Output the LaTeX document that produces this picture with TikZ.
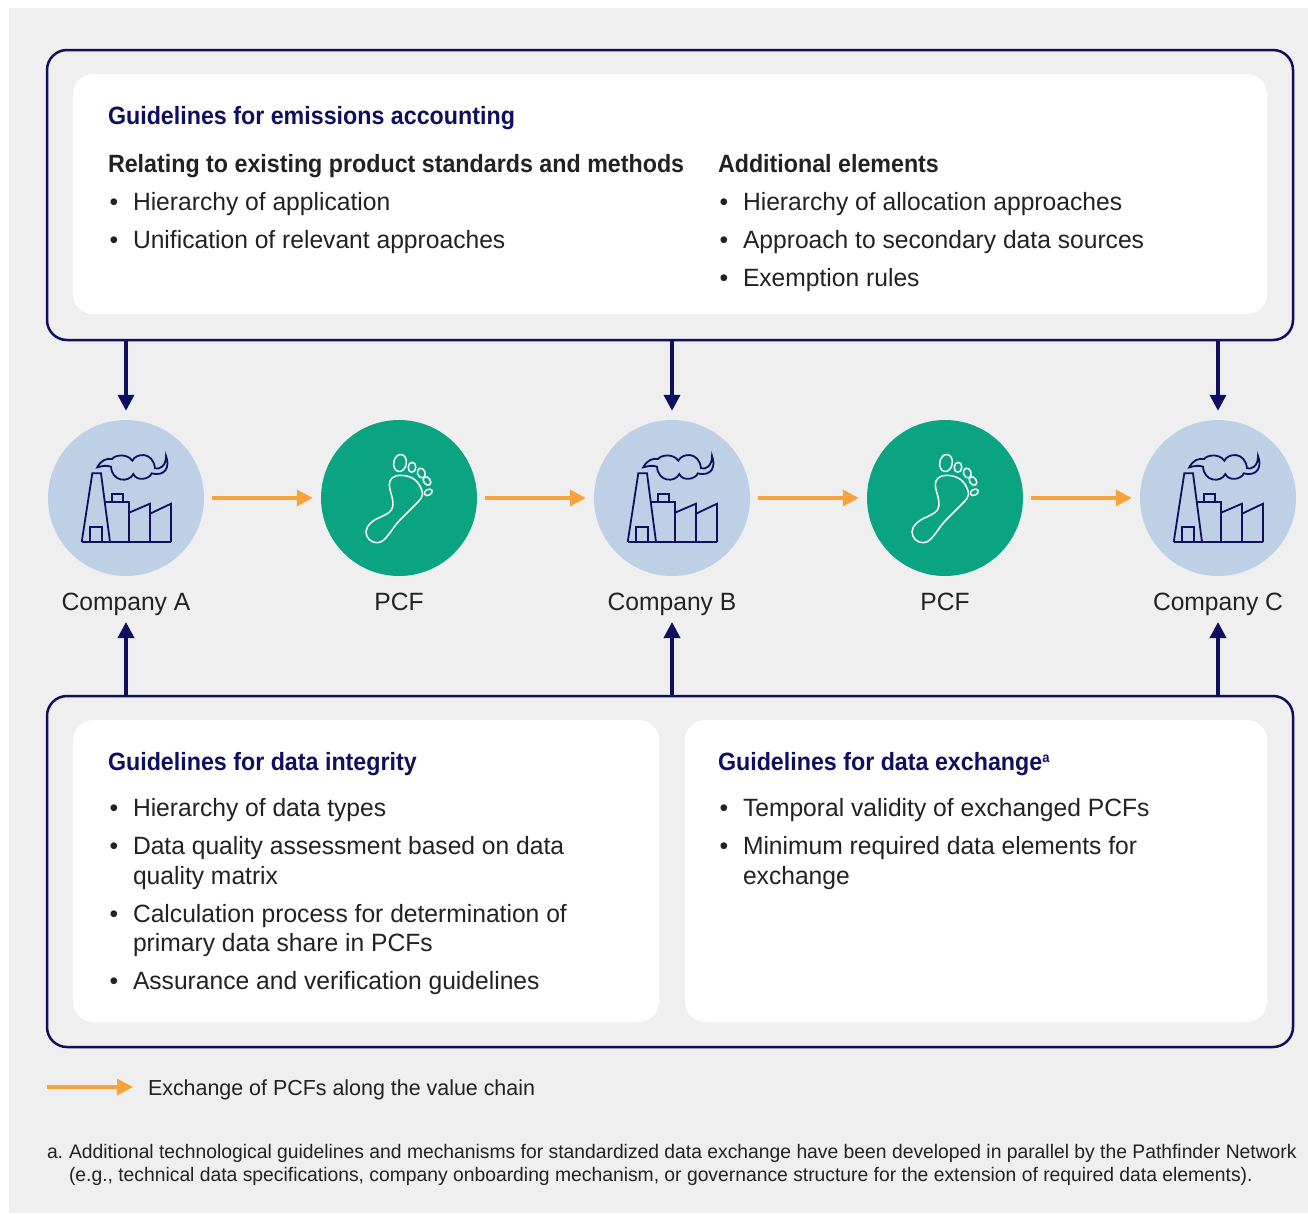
\documentclass[tikz,border=0pt]{standalone}
\usepackage{fontspec}
\setmainfont[FakeStretch=0.985,BoldFeatures={FakeStretch=0.93}]{Liberation Sans}
\usetikzlibrary{arrows.meta,calc}
\definecolor{navy}{HTML}{0F0F5F}
\definecolor{bgg}{HTML}{EFEFEF}
\definecolor{ink}{HTML}{222222}
\definecolor{orangeA}{HTML}{F7A23B}
\definecolor{greenC}{HTML}{0AA482}
\definecolor{blueC}{HTML}{BDD0E5}
\newcommand{\factory}[1]{%
 \begin{scope}[shift={(#1)},navy,line width=1.8pt,line join=miter]
 \draw (-44.3,44) -- (45,44);
 \draw (-44.3,44) -- (-33.7,-24.7) -- (-25,-24.7) -- (-16,44);
 \draw (-36,44) -- (-36,29.3) -- (-24,29.3) -- (-24,44);
 \draw (-21,3.7) -- (3,3.7) -- (3,44);
 \draw (-14,3.7) -- (-14,-4.3) -- (-3.3,-4.3) -- (-3.3,3.7);
 \draw (3,14.7) -- (24,5.7) -- (24,44);
 \draw (24,15.7) -- (45,5.7) -- (45,44);
 \draw (-28.7,-30.7) .. controls (-25,-38) and (-19,-40) .. (-14,-39) .. controls (-11,-43) and (1,-45) .. (6.3,-37.3) .. controls (10,-45) and (27,-47) .. (29,-29.7) .. controls (33,-28.5) and (40,-31) .. (40,-42) .. controls (44,-32) and (40,-21) .. (25.7,-24.7) .. controls (24,-19) and (11,-16) .. (7.3,-24) .. controls (3,-15) and (-14,-16) .. (-15,-31.3) .. controls (-19,-33) and (-24,-32) .. (-28.7,-30.7) -- cycle;
 \end{scope}}
\newcommand{\foot}[1]{%
 \begin{scope}[shift={(#1)},white,line width=1.5pt]
 \draw[rotate around={-10:(1,-35)}] (1,-35) ellipse (6.3 and 8.6);
 \draw[rotate around={-5:(13,-30.7)}] (13,-30.7) ellipse (3.8 and 5);
 \draw[rotate around={20:(22.3,-25)}] (22.3,-25) ellipse (3.8 and 5);
 \draw[rotate around={35:(28,-17)}] (28,-17) ellipse (3.3 and 4.6);
 \draw[rotate around={28:(29.3,-5.7)}] (29.3,-5.7) ellipse (4.2 and 2.9);
 \draw (1,-22.7) .. controls (-5,-22.7) and (-10,-19) .. (-9.7,-13) .. controls (-9.5,-6) and (-5,0) .. (-6.3,8.7) .. controls (-7,14) and (-13,16.5) .. (-19,19.3) .. controls (-26,22) and (-33,28) .. (-33,33.7) .. controls (-33,40) and (-28,44.7) .. (-22,44.7) .. controls (-17,44.7) and (-14,41) .. (-10.7,37) .. controls (-6,31) and (-4,27) .. (1,22) .. controls (8,15) and (14,9) .. (19.3,3.7) .. controls (24,-1) and (24,-5) .. (22.7,-8) .. controls (20,-16) and (14,-22.7) .. (1,-22.7) -- cycle;
 \end{scope}}
\newcommand{\supa}{\raisebox{8pt}{\fontsize{14}{16}\selectfont\bfseries a}}
\tikzset{
 x=1pt,y=-1pt,
 frame/.style={draw=navy,line width=2.5pt,rounded corners=20pt},
 panel/.style={fill=white,rounded corners=20pt},
 txt/.style={anchor=base west,inner sep=0pt,outer sep=0pt,text=ink,font=\fontsize{25}{30}\selectfont},
 head/.style={txt,text=navy,font=\fontsize{25}{30}\selectfont\bfseries},
 sub/.style={txt,font=\fontsize{25}{30}\selectfont\bfseries},
 lab/.style={anchor=base,inner sep=0pt,text=ink,font=\fontsize{25}{30}\selectfont},
 foot note/.style={txt,font=\fontsize{19.6}{24}\selectfont},
 comp/.style={circle,fill=blueC,minimum size=156pt,inner sep=0pt},
 pcf/.style={circle,fill=greenC,minimum size=156pt,inner sep=0pt},
 navyarrow/.style={draw=navy,line width=3.6pt,-{Triangle[length=16pt,width=16pt]}},
 orarrow/.style={draw=orangeA,line width=3.6pt,-{Triangle[length=16pt,width=16pt]}},
}
\begin{document}
\begin{tikzpicture}
\useasboundingbox (0,0) rectangle (1308,1213);
\fill[bgg] (9,8) rectangle (1308,1213);
\draw[frame] (47,50) rectangle (1293,340);
\fill[panel] (73,74) rectangle (1267,314);
\draw[frame] (47,696) rectangle (1293,1047);
\fill[panel] (73,720) rectangle (659,1022);
\fill[panel] (685,720) rectangle (1267,1022);
\coordinate (topL) at (47,340); \coordinate (topR) at (1293,340);
\coordinate (botL) at (47,696); \coordinate (botR) at (1293,696);
\node[comp] (A) at (126,498) {};
\node[pcf] (P1) at (399,498) {};
\node[comp] (B) at (672,498) {};
\node[pcf] (P2) at (945,498) {};
\node[comp] (C) at (1218,498) {};
\factory{A}\factory{B}\factory{C}\foot{P1}\foot{P2}
\node[lab] (LA) at (126,610) {Company A};
\node[lab] (LP1) at (399,610) {PCF};
\node[lab] (LB) at (672,610) {Company B};
\node[lab] (LP2) at (945,610) {PCF};
\node[lab] (LC) at (1218,610) {Company C};
\foreach \n in {A,B,C}{
 \draw[navyarrow,shorten >=9pt] (\n |- topL) -- (\n.north);
 \coordinate (t\n) at (\n |- 0,622);
 \draw[navyarrow] (\n |- botL) -- (t\n);
}
\foreach \a/\b in {A/P1,P1/B,B/P2,P2/C}
 \draw[orarrow,shorten <=8pt,shorten >=8pt] (\a.east) -- (\b.west);
\node[head] (t1) at (108,124) {Guidelines for emissions accounting};
\node[sub] (t2) at (108,172) {Relating to existing product standards and methods};
\node[sub] (t3) at (718,172) {Additional elements};
\foreach \x/\y/\s in {108/210/Hierarchy of application,108/248/Unification of relevant approaches,718/210/Hierarchy of allocation approaches,718/248/Approach to secondary data sources,718/286/Exemption rules,108/816/Hierarchy of data types,108/854/Data quality assessment based on data,108/922/Calculation process for determination of,108/989/Assurance and verification guidelines,718/816/Temporal validity of exchanged PCFs,718/854/Minimum required data elements for}{
 \node[txt] at (\x+1.5,\y) {•};
 \node[txt] at (\x+25,\y) {\s};
}
\foreach \x/\y/\s in {133/884/quality matrix,133/951/primary data share in PCFs,743/884/exchange}
 \node[txt] at (\x,\y) {\s};
\node[head] at (108,770) {Guidelines for data integrity};
\node[head] at (718,770) {Guidelines for data exchange\supa};
\coordinate (legA) at (47,1087); \coordinate (legB) at (133,1087);
\draw[orarrow] (legA) -- (legB);
\node[txt,font=\fontsize{21.75}{26}\selectfont] (leg) at (148,1095) {Exchange of PCFs along the value chain};
\node[foot note] at (47,1158) {a.};
\node[foot note] at (69,1158) {Additional technological guidelines and mechanisms for standardized data exchange have been developed in parallel by the Pathfinder Network};
\node[foot note] at (69,1181) {(e.g., technical data specifications, company onboarding mechanism, or governance structure for the extension of required data elements).};
\end{tikzpicture}
\end{document}
